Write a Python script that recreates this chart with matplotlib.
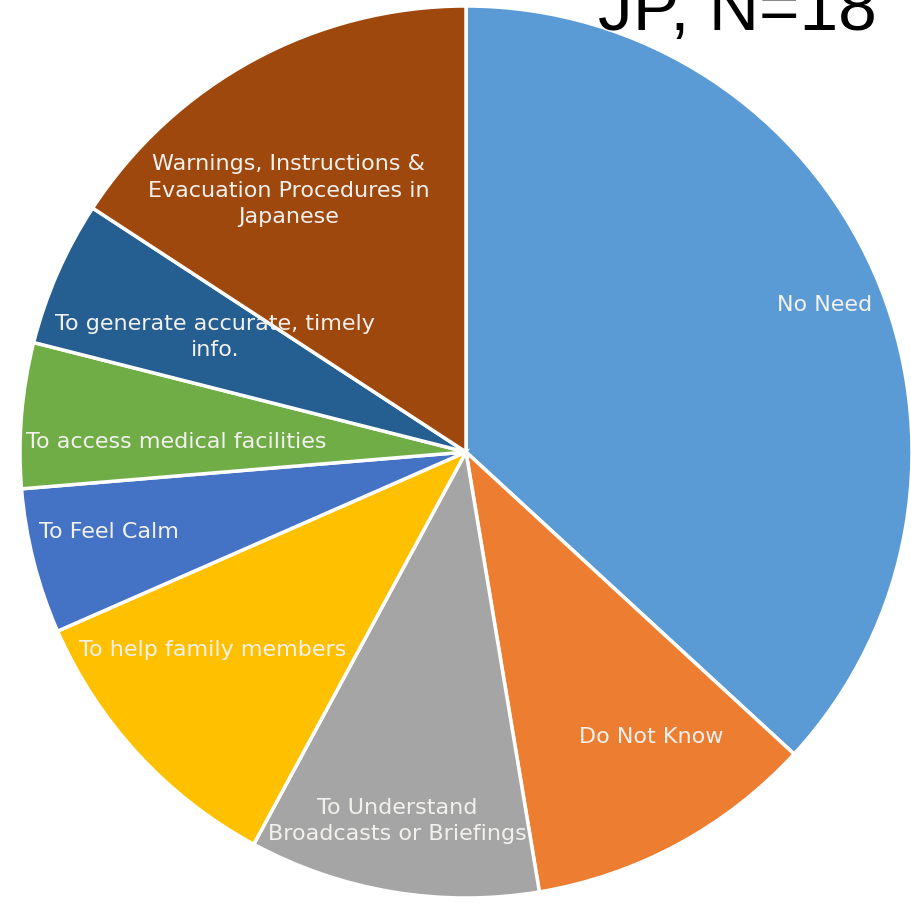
import numpy as np
import matplotlib.pyplot as plt

# ---- data ----
labels = ["No Need", "Do Not Know", "To Understand\nBroadcasts or Briefings",
          "To help family members", "To Feel Calm", "To access medical facilities",
          "To generate accurate, timely\ninfo.",
          "Warnings, Instructions &\nEvacuation Procedures in\nJapanese"]
counts = [7, 2, 2, 2, 1, 1, 1, 3]
colors = ["#5B9BD5", "#ED7D31", "#A5A5A5", "#FFC000", "#4472C4",
          "#70AD47", "#255E91", "#9E480E"]

# label placement (fraction of radius, clockwise nudge in degrees)
label_r = [0.87, 0.76, 0.84, 0.72, 0.82, 0.65, 0.62, 0.71]
label_nudge = [1.3, -4.7, 1.1, 4.7, 1.8, -2.5, 1.1, -5.6]

W, H = 912, 904
fig = plt.figure(figsize=(W / 100, H / 100), dpi=100)
cx, cy, R = 466, 453, 446
ax = fig.add_axes([(cx - R) / W, (H - cy - R) / H, 2 * R / W, 2 * R / H])

wedges, _ = ax.pie(counts, colors=colors, startangle=90, counterclock=False,
                   radius=1, wedgeprops=dict(edgecolor="white", linewidth=2.5))
ax.set_xlim(-1, 1)
ax.set_ylim(-1, 1)
ax.axis("off")

for w, lab, r, nd in zip(wedges, labels, label_r, label_nudge):
    ang = np.deg2rad((w.theta1 + w.theta2) / 2 - nd)
    ax.text(r * np.cos(ang), r * np.sin(ang), lab, ha="center", va="center",
            color="#f3f1ee", fontsize=16, family="DejaVu Sans", linespacing=1.4)

fig.text(598 / W, 1 - 30 / H, "JP, N=18", ha="left", va="baseline",
         fontsize=50, family=["Liberation Sans", "DejaVu Sans"], color="black")

fig.savefig("out.png", dpi=100)
